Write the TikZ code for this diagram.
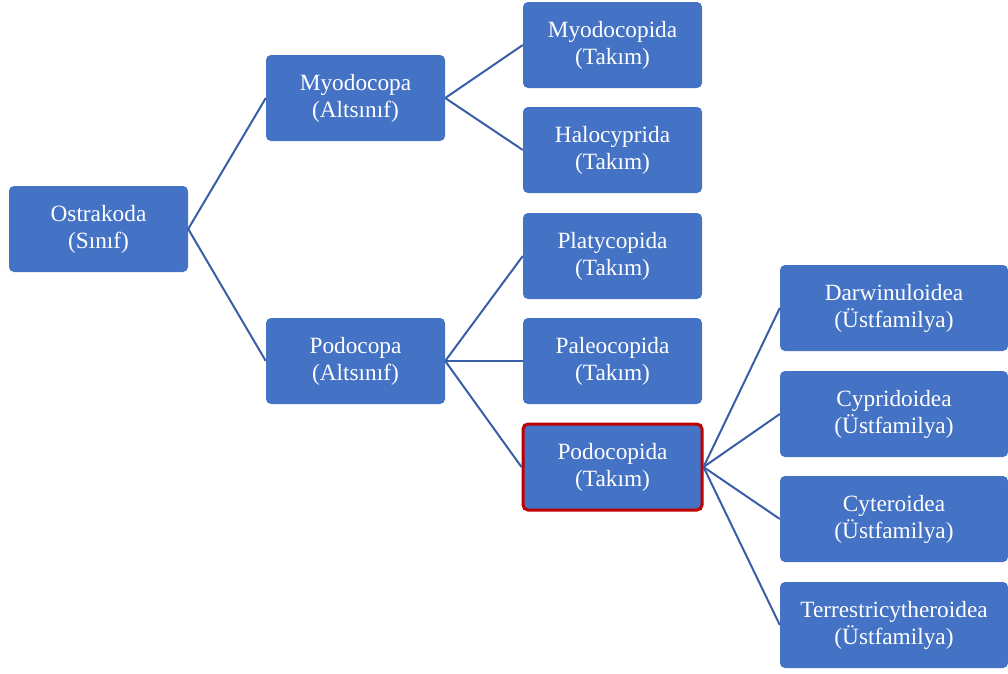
\documentclass[tikz,border=0pt]{standalone}
\usepackage{fontspec}
\setmainfont{Liberation Serif}
\definecolor{boxblue}{HTML}{4472C4}
\definecolor{linkblue}{HTML}{3A5DA8}
\definecolor{hired}{HTML}{C00000}
\begin{document}
\begin{tikzpicture}[x=1pt,y=-1pt,
  box/.style={fill=boxblue, draw=none, rounded corners=5pt, minimum width=179pt, minimum height=86pt, inner sep=0pt, align=center, text=white, font=\fontsize{23.3}{27}\selectfont},
  widebox/.style={box, minimum width=228pt},
  link/.style={draw=linkblue, line width=2pt}]
\useasboundingbox (0,0) rectangle (1008,673);
\node[box] (ostr) at (98.5,229) {Ostrakoda\\(Sınıf)};
\node[box] (myoa) at (355.5,98) {Myodocopa\\(Altsınıf)};
\node[box] (poda) at (355.5,361) {Podocopa\\(Altsınıf)};
\node[box] (myoida) at (612.5,45) {Myodocopida\\(Takım)};
\node[box] (halo) at (612.5,150) {Halocyprida\\(Takım)};
\node[box] (platy) at (612.5,256) {Platycopida\\(Takım)};
\node[box] (paleo) at (612.5,361) {Paleocopida\\(Takım)};
\node[box, draw=hired, line width=3pt] (podida) at (612.5,467) {Podocopida\\(Takım)};
\node[widebox] (darw) at (894,308) {Darwinuloidea\\(Üstfamilya)};
\node[widebox] (cypr) at (894,414) {Cypridoidea\\(Üstfamilya)};
\node[widebox] (cyte) at (894,519) {Cyteroidea\\(Üstfamilya)};
\node[widebox] (terr) at (894,625) {Terrestricytheroidea\\(Üstfamilya)};
\foreach \c in {myoa,poda} \draw[link] (ostr.east) -- (\c.west);
\foreach \c in {myoida,halo} \draw[link] (myoa.east) -- (\c.west);
\foreach \c in {platy,paleo,podida} \draw[link] (poda.east) -- (\c.west);
\foreach \c in {darw,cypr,cyte,terr} \draw[link] (podida.east) -- (\c.west);
\end{tikzpicture}
\end{document}
